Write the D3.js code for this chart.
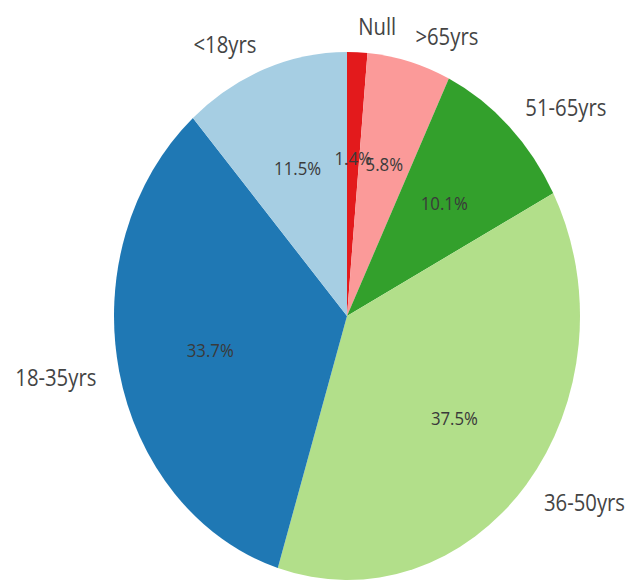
<!DOCTYPE html>
<html>
<head>
<meta charset="utf-8">
<script src="https://cdn.jsdelivr.net/npm/d3@7"></script>
<style>
  html, body { margin: 0; padding: 0; background: #fff; }
  svg { display: block; }
</style>
</head>
<body>
<svg id="chart" width="638" height="581"></svg>
<script>
const categories = ["Null", ">65yrs", "51-65yrs", "36-50yrs", "18-35yrs", "<18yrs"];
const values = [1.4, 5.8, 10.1, 37.5, 33.7, 11.5];
const pctLabels = ["1.4%", "5.8%", "10.1%", "37.5%", "33.7%", "11.5%"];
const colors = ["#e31a1c", "#fb9a99", "#33a02c", "#b2df8a", "#1f78b4", "#a6cee3"];

const W = 638, H = 581;
const cx = 347, cy = 316;
const R = 264;          // vertical radius
const sx = 233 / 264;   // horizontal squeeze of the picture

const svg = d3.select("#chart");
const g = svg.append("g").attr("transform", `translate(${cx},${cy}) scale(${sx},1)`);

const data = categories.map((c, i) => ({ cat: c, value: values[i], pct: pctLabels[i], color: colors[i] }));

const pie = d3.pie().value(d => d.value).sort(null).startAngle(0).endAngle(2 * Math.PI);
const arcs = pie(data);
const arc = d3.arc().innerRadius(0).outerRadius(R);

g.selectAll("path.slice").data(arcs).join("path")
  .attr("class", "slice")
  .attr("d", arc)
  .attr("fill", d => d.data.color);

function pos(d, k) {
  const a = (d.startAngle + d.endAngle) / 2;
  return [Math.sin(a) * R * k, -Math.cos(a) * R * k];
}

g.selectAll("text.lbl").data(arcs).join("text")
  .attr("class", "lbl")
  .attr("x", d => pos(d, 1.1)[0])
  .attr("y", d => pos(d, 1.1)[1])
  .attr("text-anchor", d => pos(d, 1.1)[0] > 0 ? "start" : "end")
  .attr("dominant-baseline", "central")
  .attr("font-family", "Open Sans, sans-serif")
  .attr("font-size", 23)
  .attr("fill", "#444")
  .text(d => d.data.cat);

g.selectAll("text.pct").data(arcs).join("text")
  .attr("class", "pct")
  .attr("x", d => pos(d, 0.6)[0])
  .attr("y", d => pos(d, 0.6)[1])
  .attr("text-anchor", "middle")
  .attr("dominant-baseline", "central")
  .attr("font-family", "Open Sans, sans-serif")
  .attr("font-size", 19)
  .attr("fill", "#3a3a3a")
  .text(d => d.data.pct);
</script>
</body>
</html>
